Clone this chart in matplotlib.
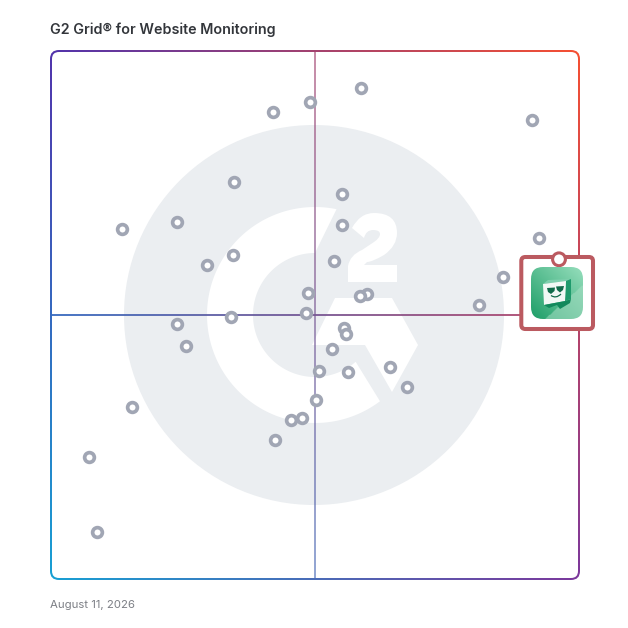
import numpy as np
import matplotlib
matplotlib.use("Agg")
import matplotlib.pyplot as plt
from matplotlib.patches import Circle, FancyBboxPatch, Polygon, PathPatch, Rectangle
from matplotlib.path import Path

TITLE = "G2 Grid® for Website Monitoring"
DATE = "August 11, 2026"
# market presence / satisfaction scores of the products
market_presence = [58.7, 49.05, 42.05, 91.1, 34.66, 55.11, 23.86, 13.45, 55.11, 92.42, 34.47, 29.55,
                   53.6, 85.61, 48.67, 59.85, 58.52, 81.06, 48.3, 34.09, 23.86, 55.49, 55.87, 25.57,
                   53.22, 64.2, 50.76, 56.25, 67.42, 50.19, 15.34, 47.54, 45.45, 42.42, 7.2, 8.71]
satisfaction = [93.0, 90.34, 88.45, 86.93, 75.19, 72.92, 67.61, 66.29, 67.05, 64.58, 61.36, 59.47,
                60.23, 57.2, 54.17, 53.98, 53.6, 51.89, 50.38, 49.62, 48.3, 47.54, 46.4, 44.13,
                43.56, 40.15, 39.39, 39.2, 36.36, 33.9, 32.58, 30.49, 30.11, 26.33, 23.11, 8.9]

W = 628
fig = plt.figure(figsize=(6.28, 6.28), dpi=100, facecolor="white")
bg = fig.add_axes([0, 0, 1, 1])
bg.set_xlim(0, W); bg.set_ylim(W, 0); bg.axis("off")

# gradient source shared by border and crosshair
tl, tr = np.array([82, 52, 172]), np.array([246, 80, 50])
bl, br = np.array([24, 160, 212]), np.array([124, 56, 156])
u, v = np.meshgrid(np.linspace(0, 1, 256), np.linspace(0, 1, 256))
grad = (((1-v)*(1-u))[..., None]*tl + ((1-v)*u)[..., None]*tr
        + (v*(1-u))[..., None]*bl + (v*u)[..., None]*br) / 255
ext = (50, 580, 580, 50)


def rrect(x0, y0, x1, y1, r, **kw):
    return FancyBboxPatch((x0+r, y0+r), x1-x0-2*r, y1-y0-2*r,
                          boxstyle=f"round,pad={r},rounding_size={r}", **kw)


outer = rrect(50, 50, 580, 580, 9, fc="none", ec="none")
bg.add_patch(outer)
im = bg.imshow(grad, extent=ext, aspect="auto", zorder=1, interpolation="bilinear")
im.set_clip_path(outer)
bg.add_patch(rrect(52, 52, 578, 578, 7, fc="white", ec="none", zorder=2))

# watermark logo
GREY = "#ebeef1"
bg.add_patch(Circle((314, 315), 190, fc=GREY, ec="none", zorder=3))
th = np.radians(np.linspace(78.5, 307, 150))
ox, oy = 315+108*np.cos(th), 315-108*np.sin(th)
th2 = np.radians(np.linspace(311, 90, 150))
ix, iy = 315+62*np.cos(th2), 315-62*np.sin(th2)
bg.add_patch(Polygon(np.c_[np.r_[ox, ix], np.r_[oy, iy]], fc="white", ec="none", zorder=4))
bg.add_patch(Polygon([(335, 298), (392, 298), (418, 345), (392, 392), (365, 345), (312, 345)],
                     fc="white", ec="none", zorder=4))
two = Path([(352, 228), (360, 213), (374, 213), (397, 213), (397, 233), (397, 246), (384, 255),
            (372, 262), (367, 262), (364, 265), (397, 265), (397, 282), (348, 282), (348, 266),
            (350, 255), (362, 250), (374, 242), (380, 238), (380, 234), (380, 230), (373, 230),
            (366, 230), (364, 238), (352, 228)],
           [Path.MOVETO, Path.CURVE3, Path.CURVE3, Path.CURVE3, Path.CURVE3, Path.CURVE3, Path.CURVE3,
            Path.CURVE3, Path.CURVE3, Path.LINETO, Path.LINETO, Path.LINETO, Path.LINETO, Path.LINETO,
            Path.CURVE3, Path.CURVE3, Path.LINETO, Path.CURVE3, Path.CURVE3, Path.CURVE3, Path.CURVE3,
            Path.CURVE3, Path.CURVE3, Path.CLOSEPOLY])
bg.add_patch(PathPatch(two, fc="white", ec="none", zorder=4))

# crosshair: the vertical arm is paler than the horizontal one
for r, al in [(Rectangle((314, 51), 2, 528), 0.6), (Rectangle((51, 314), 528, 2), 0.9)]:
    r.set(fc="none", ec="none")
    bg.add_patch(r)
    g = bg.imshow(grad, extent=ext, aspect="auto", zorder=5, interpolation="bilinear", alpha=al)
    g.set_clip_path(r)
bg.set_xlim(0, W); bg.set_ylim(W, 0)

# data layer
ax = fig.add_axes([51/W, 1-579/W, 528/W, 528/W], facecolor="none")
ax.set_xlim(0, 100); ax.set_ylim(0, 100); ax.axis("off")
ax.scatter(market_presence, satisfaction, s=49, facecolor="white", edgecolor="#a1a6b4",
           linewidth=2.65, zorder=6, clip_on=False)

# featured product box and icon (top layer)
top = fig.add_axes([0, 0, 1, 1], facecolor="none")
top.set_xlim(0, W); top.set_ylim(W, 0); top.axis("off")
RED = "#bb5a60"
top.add_patch(rrect(521.3, 257, 593, 329, 4, fc="white", ec=RED, lw=2.9, zorder=7))
top.add_patch(Circle((559, 259.3), 6.4, fc="white", ec=RED, lw=2.2, zorder=8))
clip = rrect(531, 267, 583, 319, 12, fc="none", ec="none", zorder=8)
top.add_patch(clip)
uu, vv = np.meshgrid(np.linspace(0, 1, 64), np.linspace(0, 1, 64))
t = np.clip(((1-uu) + vv) / 2, 0, 1)
c0, c1 = np.array([150, 222, 188]), np.array([30, 158, 104])
icon = (c0 + (c1-c0)*t[..., None]) / 255
mask = (uu*0.9 + vv) > 1.25
icon[mask] = icon[mask]*0.45 + np.array([168, 222, 196])/255*0.55
ii = top.imshow(icon, extent=(531, 583, 319, 267), aspect="auto", zorder=8, interpolation="bilinear")
ii.set_clip_path(clip)
top.set_xlim(0, W); top.set_ylim(W, 0)
top.add_patch(Polygon([(543, 284), (548, 280), (571, 279), (566, 281)], fc="#7fcfae", ec="none", zorder=9))
top.add_patch(Polygon([(566, 281), (571, 279), (571, 299), (565, 301)], fc="#1f9a6c", ec="none", zorder=9))
top.add_patch(Polygon([(543, 284), (566, 281), (565, 301), (544, 305)], fc="#f2f8f5", ec="none", zorder=9))
top.add_patch(Polygon([(544, 305), (565, 301), (571, 299), (570, 303), (560, 309), (557, 305), (549, 308)],
                      fc="#12895c", ec="none", zorder=10))
top.add_patch(Polygon([(547, 288), (555, 287.5), (554.5, 291), (551, 294), (548, 292)], fc="#126b4b", ec="none", zorder=10))
top.add_patch(Polygon([(556, 286.5), (564, 286), (563, 290), (560, 292.5), (557, 290)], fc="#126b4b", ec="none", zorder=10))
smile = Path([(551, 295.5), (556, 299), (561, 294)], [Path.MOVETO, Path.CURVE3, Path.CURVE3])
top.add_patch(PathPatch(smile, fc="none", ec="#126b4b", lw=0.9, zorder=10))

fig.text(50/W, 1-29.5/W, TITLE, fontsize=10.3, fontweight="semibold", family="Inter", color="#33363b", va="center")
fig.text(50.5/W, 1-604.5/W, DATE, fontsize=8.2, family="Inter", color="#7c7f85", va="center")
fig.savefig("out.png", dpi=100)
